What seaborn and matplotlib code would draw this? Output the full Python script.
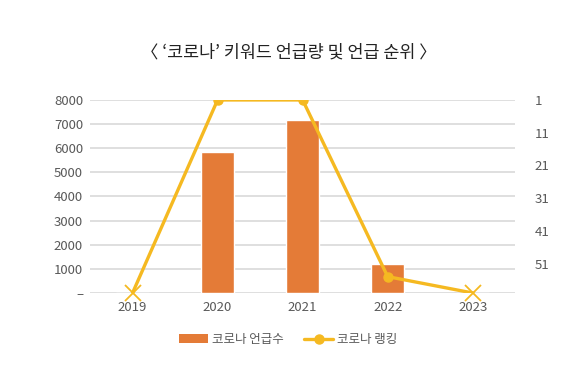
import numpy as np
import pandas as pd
import matplotlib
matplotlib.use("Agg")
import matplotlib.pyplot as plt
import seaborn as sns
from matplotlib.lines import Line2D
from matplotlib.patches import Patch

# data
years = ["2019", "2020", "2021", "2022", "2023"]
mentions = [0, 5840, 7150, 1200, 0]
ranks = [60, 1, 1, 55, 60]          # 60 = out of ranking (bottom)
ranked = [False, True, True, True, False]
left_ticks = [0, 1000, 2000, 3000, 4000, 5000, 6000, 7000, 8000]
left_labels = ["–", "1000", "2000", "3000", "4000", "5000", "6000", "7000", "8000"]
right_ticks = [1, 11, 21, 31, 41, 51]

BAR = "#E47B37"
LINE = "#F5B921"
TXT = "#595959"

sns.set_style("white")
plt.rcParams["font.family"] = ["Noto Sans CJK KR", "DejaVu Sans"]

df = pd.DataFrame({"year": years, "mentions": mentions, "rank": ranks, "ranked": ranked})
df["pos"] = np.arange(len(df))

fig = plt.figure(figsize=(5.77, 3.73), dpi=100)
ax = fig.add_axes([0.156, 0.2145, 0.737, 0.5175])

sns.barplot(data=df, x="year", y="mentions", color=BAR, width=0.39,
            saturation=1, ax=ax, zorder=2)
ax.set_xlim(-0.5, 4.5)
ax.set_ylim(0, 8000)
ax.set_yticks(left_ticks)
ax.set_yticklabels(left_labels)
ax.grid(axis="y", color="#D9D9D9", linewidth=1.2, zorder=0)
ax.set_axisbelow(True)
ax.set_xlabel("")
ax.set_ylabel("")
for s in ax.spines.values():
    s.set_visible(False)
ax.tick_params(axis="both", length=0, colors=TXT, labelsize=9.5)
ax.tick_params(axis="y", pad=5)
ax.tick_params(axis="x", pad=6)

ax2 = ax.twinx()
sns.lineplot(data=df, x="pos", y="rank", color=LINE, linewidth=2.4, ax=ax2,
             zorder=3)
on = df[df["ranked"]]
off = df[~df["ranked"]]
ax2.plot(on["pos"], on["rank"], "o", color=LINE, markersize=6.5, zorder=4)
ax2.plot(off["pos"], off["rank"], "x", color=LINE, markersize=11,
         markeredgewidth=1.3, zorder=4, clip_on=False)
ax2.set_ylim(60, 1)
ax2.set_yticks(right_ticks)
ax2.set_xlim(-0.5, 4.5)
ax2.set_xlabel("")
ax2.set_ylabel("")
for s in ax2.spines.values():
    s.set_visible(False)
ax2.tick_params(axis="y", length=0, colors=TXT, labelsize=9.5, pad=14)

fig.text(0.5, 0.86, "〈 ‘코로나’ 키워드 언급량 및 언급 순위 〉", ha="center",
         va="center", fontsize=12.5, color="#222222")

handles = [Patch(facecolor=BAR, edgecolor="none"),
           Line2D([0], [0], color=LINE, linewidth=2.4, marker="o", markersize=6.5)]
fig.legend(handles, ["코로나 언급수", "코로나 랭킹"], loc="center",
           bbox_to_anchor=(0.5, 0.09), ncol=2, frameon=False, fontsize=9,
           labelcolor=TXT, handlelength=2.3, handletextpad=0.35, columnspacing=1.6)

fig.savefig("out.png", dpi=100)
